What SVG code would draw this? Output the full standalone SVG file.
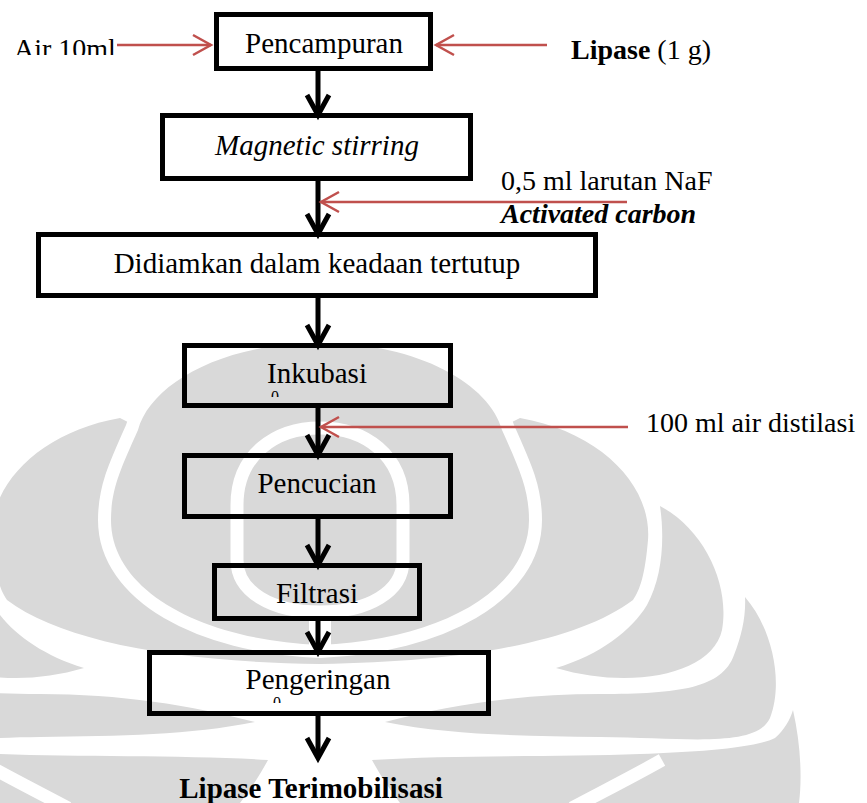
<svg xmlns="http://www.w3.org/2000/svg" width="867" height="803" viewBox="0 0 867 803">
<defs>
<style>
.wm{fill:#d9d9d9;stroke:none}
.wmgap{fill:none;stroke:#fff;stroke-width:13}
.box{fill:none;stroke:#000;stroke-width:5}
.lbl{font-family:"Liberation Serif","Times New Roman",serif;font-size:29px;fill:#000;text-anchor:middle}
.side{font-family:"Liberation Serif","Times New Roman",serif;font-size:28px;fill:#000}
.tiny{font-family:"Liberation Serif","Times New Roman",serif;font-size:16px;fill:#000;text-anchor:middle}
.flow{fill:none;stroke:#000;stroke-width:5}
.feed{fill:none;stroke:#c0504d;stroke-width:2.5}
</style>
<marker id="ab" markerUnits="userSpaceOnUse" viewBox="-25 -15 30 30" markerWidth="30" markerHeight="30" refX="0" refY="0" orient="auto" overflow="visible">
<path d="M-20,-11 L0,0 L-20,11" fill="none" stroke="#000" stroke-width="5"/>
</marker>
<marker id="ar" markerUnits="userSpaceOnUse" viewBox="-25 -15 30 30" markerWidth="30" markerHeight="30" refX="0" refY="0" orient="auto" overflow="visible">
<path d="M-18,-10 L0,0 L-18,10" fill="none" stroke="#c0504d" stroke-width="2.5"/>
</marker>
<clipPath id="clipAir"><rect x="0" y="0" width="200" height="55"/></clipPath>
<clipPath id="clipT1"><rect x="260" y="380" width="30" height="17"/></clipPath>
<clipPath id="clipT2"><rect x="262" y="686" width="30" height="17"/></clipPath>
<g id="wmside">
<path class="wm" d="M660 506 C705 530 730 585 722 630 C712 675 630 690 556 668 C600 655 632 630 647 605 C662 578 665 540 660 506 Z"/>
<path class="wm" d="M745 597 C772 628 784 682 770 718 C756 748 690 738 600 737 C520 736 450 735 385 722 C450 705 520 694 600 694 C680 694 722 688 734 655 C742 635 746 615 745 597 Z"/>
<path class="wm" d="M793 710 C801 745 802 780 799 803 L400 803 C390 790 380 775 372 760 C450 755 560 757 640 754 C700 752 755 748 775 738 C784 730 790 720 793 710 Z"/>
<path class="wmgap" d="M572 808 C600 793 630 778 662 760"/>
</g>
</defs>
<rect width="867" height="803" fill="#fff"/>

<g id="watermark">
<path class="wm" d="M120 418 C40 432 -12 485 -8 540 C-5 575 0 590 7 600 C60 640 170 662 320 664 C470 662 580 640 633 600 C640 590 645 575 648 540 C652 485 600 432 520 418 L320 520 Z"/>
<path d="M320 343 C220 343 150 385 138 430 C120 470 111 490 111 520 C111 590 200 640 320 645 C440 640 529 590 529 520 C529 490 520 470 502 430 C490 385 420 343 320 343 Z" fill="#d9d9d9" stroke="#fff" stroke-width="26" paint-order="stroke"/>
<path d="M320 428 C275 428 237 455 237 505 L237 560 C237 592 272 612 320 612 C368 612 403 592 403 560 L403 505 C403 455 365 428 320 428 Z" fill="none" stroke="#fff" stroke-width="13"/>
<rect x="309" y="612" width="22" height="40" fill="#fff"/>
<use href="#wmside"/>
<use href="#wmside" transform="translate(640,0) scale(-1,1)"/>
</g>

<g id="connectors">
<line class="flow" x1="318" y1="71" x2="318" y2="115" marker-end="url(#ab)"/>
<line class="flow" x1="318" y1="181" x2="318" y2="234" marker-end="url(#ab)"/>
<line class="flow" x1="318" y1="298" x2="318" y2="345" marker-end="url(#ab)"/>
<line class="flow" x1="318" y1="408" x2="318" y2="455" marker-end="url(#ab)"/>
<line class="flow" x1="318" y1="519" x2="318" y2="565" marker-end="url(#ab)"/>
<line class="flow" x1="318" y1="621" x2="318" y2="652" marker-end="url(#ab)"/>
<line class="flow" x1="318" y1="716" x2="318" y2="758" marker-end="url(#ab)"/>
<line class="feed" x1="117" y1="45" x2="211" y2="45" marker-end="url(#ar)"/>
<line class="feed" x1="547" y1="45" x2="436" y2="45" marker-end="url(#ar)"/>
<line class="feed" x1="627" y1="202" x2="321" y2="202" marker-end="url(#ar)"/>
<line class="feed" x1="628" y1="427" x2="321" y2="427" marker-end="url(#ar)"/>
</g>

<g id="input-air">
<text class="side" x="14" y="58" clip-path="url(#clipAir)">Air 10ml</text>
</g>
<g id="input-lipase">
<text class="side" x="571" y="59"><tspan font-weight="bold">Lipase</tspan> (1 g)</text>
</g>
<g id="input-naf">
<text class="side" x="501" y="190">0,5 ml larutan NaF</text>
<text class="side" x="501" y="223" font-weight="bold" font-style="italic">Activated carbon</text>
</g>
<g id="input-water">
<text class="side" x="646" y="432" font-size="27">100 ml air distilasi</text>
</g>

<g id="node-pencampuran">
<rect class="box" x="216.5" y="14.5" width="214" height="54"/>
<text class="lbl" x="324" y="53">Pencampuran</text>
</g>
<g id="node-stirring">
<rect class="box" x="162.5" y="115.5" width="308" height="63"/>
<text class="lbl" x="317" y="155" font-style="italic">Magnetic stirring</text>
</g>
<g id="node-didiamkan">
<rect class="box" x="38.5" y="234.5" width="557" height="61"/>
<text class="lbl" x="317" y="273">Didiamkan dalam keadaan tertutup</text>
</g>
<g id="node-inkubasi">
<rect class="box" x="184.5" y="345.5" width="266" height="60"/>
<text class="lbl" x="317" y="383">Inkubasi</text>
<text class="tiny" x="275" y="402" clip-path="url(#clipT1)">0</text>
</g>
<g id="node-pencucian">
<rect class="box" x="184.5" y="455.5" width="266" height="61"/>
<text class="lbl" x="317" y="493">Pencucian</text>
</g>
<g id="node-filtrasi">
<rect class="box" x="214.5" y="565.5" width="205" height="53"/>
<text class="lbl" x="317" y="603">Filtrasi</text>
</g>
<g id="node-pengeringan">
<rect class="box" x="149.5" y="652.5" width="339" height="61"/>
<text class="lbl" x="318" y="689">Pengeringan</text>
<text class="tiny" x="277" y="708" clip-path="url(#clipT2)">0</text>
</g>
<g id="output">
<text class="lbl" x="311" y="798" font-weight="bold">Lipase Terimobilisasi</text>
</g>
</svg>
